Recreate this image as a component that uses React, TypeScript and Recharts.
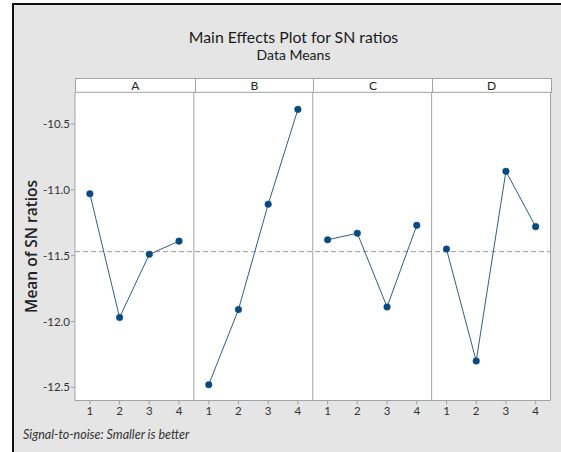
import React from "react"
import { LineChart, Line, XAxis, YAxis, ReferenceLine, ReferenceArea } from "recharts"

const factors = ["A", "B", "C", "D"]
const levels = [1, 2, 3, 4]
const meanA = [-11.03, -11.97, -11.49, -11.39]
const meanB = [-12.48, -11.91, -11.11, -10.39]
const meanC = [-11.38, -11.33, -11.89, -11.27]
const meanD = [-11.45, -12.3, -10.86, -11.28]
const overallMean = -11.47
const yTicks = [-12.5, -12.0, -11.5, -11.0, -10.5]

const seriesValues = [meanA, meanB, meanC, meanD]

// one row per factor level, x runs 1..16 across the four panels
const rows = factors.flatMap((f, fi) =>
  levels.map((lv, li) => ({ x: fi * levels.length + lv, [f]: seriesValues[fi][li] }))
)
const xTicks = rows.map((r) => r.x)

const FONT = "Lato, 'Open Sans', sans-serif"
const FRAME = "#a3a3a3"
const LINE = "#2f5f80"
const DOT = "#0b4a80"

const W = 561
const H = 452
const PLOT_LEFT = 75
const PLOT_RIGHT = 550.5
const PLOT_TOP = 92.3
const PLOT_BOTTOM = 400.5
const X_AXIS_H = 30

export default function App() {
  const panelW = (PLOT_RIGHT - PLOT_LEFT) / factors.length
  return (
    <div style={{ position: "absolute", left: 0, top: 0, width: W, height: H, background: "#fff", overflow: "hidden", fontFamily: FONT }}>
      <div
        style={{
          position: "absolute",
          left: 12,
          top: 3,
          width: W,
          height: H,
          background: "#e5e5e5",
          borderLeft: "2px solid #111",
          borderTop: "2px solid #111",
        }}
      />
      <div style={{ position: "absolute", left: 0, width: W, top: 27, textAlign: "center", paddingLeft: 26, boxSizing: "border-box", fontSize: 15.8, color: "#1a1a1a", lineHeight: "20px" }}>
        Main Effects Plot for SN ratios
      </div>
      <div style={{ position: "absolute", left: 0, width: W, top: 46, textAlign: "center", paddingLeft: 26, boxSizing: "border-box", fontSize: 14, color: "#1a1a1a", lineHeight: "18px" }}>
        Data Means
      </div>

      {/* facet header strip */}
      <div
        style={{
          position: "absolute",
          left: PLOT_LEFT,
          top: 78,
          width: PLOT_RIGHT - PLOT_LEFT + 1,
          height: PLOT_TOP - 78 + 1,
          display: "flex",
          background: "#fff",
          border: `1px solid ${FRAME}`,
          boxSizing: "border-box",
        }}
      >
        {factors.map((f, i) => (
          <div
            key={f}
            style={{
              width: panelW,
              textAlign: "center",
              fontSize: 12,
              lineHeight: "13px",
              color: "#222",
              borderLeft: i === 0 ? "none" : `1px solid ${FRAME}`,
              boxSizing: "border-box",
            }}
          >
            {f}
          </div>
        ))}
      </div>

      <div style={{ position: "absolute", left: 0, top: 0 }}>
        <LineChart
          width={W}
          height={H}
          data={rows}
          margin={{ top: PLOT_TOP, right: W - PLOT_RIGHT, bottom: H - PLOT_BOTTOM - X_AXIS_H, left: 0 }}
        >
          <XAxis
            dataKey="x"
            type="number"
            domain={[0.5, 16.5]}
            ticks={xTicks}
            interval={0}
            height={X_AXIS_H}
            allowDataOverflow
            tickFormatter={(v: number) => String(((v - 1) % 4) + 1)}
            axisLine={false}
            tickLine={{ stroke: FRAME }}
            tickSize={4}
            tick={{ fontSize: 11.5, fill: "#333", fontFamily: FONT }}
          />
          <YAxis
            type="number"
            domain={[-12.6, -10.26]}
            ticks={yTicks}
            allowDataOverflow
            width={PLOT_LEFT}
            tickFormatter={(v: number) => v.toFixed(1)}
            axisLine={false}
            tickLine={{ stroke: FRAME }}
            tickSize={4}
            tickMargin={1}
            tick={{ fontSize: 11.5, fill: "#333", fontFamily: FONT }}
            label={{
              value: "Mean of SN ratios",
              angle: -90,
              position: "center",
              dx: -6,
              style: { fontSize: 15.5, fontWeight: 600, fill: "#222", fontFamily: "'Open Sans', sans-serif" },
            }}
          />
          <ReferenceArea x1={0.5} x2={16.5} y1={-12.6} y2={-10.26} fill="#fff" fillOpacity={1} stroke={FRAME} />
          {[4.5, 8.5, 12.5].map((x) => (
            <ReferenceLine key={x} x={x} stroke={FRAME} />
          ))}
          <ReferenceLine y={overallMean} stroke="#999" strokeDasharray="5 3" />
          {factors.map((f) => (
            <Line
              key={f}
              dataKey={f}
              type="linear"
              stroke={LINE}
              strokeWidth={1}
              dot={{ r: 3.3, fill: DOT, stroke: DOT, strokeWidth: 0.5 }}
              activeDot={false}
              connectNulls={false}
              isAnimationActive={false}
            />
          ))}
        </LineChart>
      </div>

      <div style={{ position: "absolute", left: 23, top: 426, fontSize: 12.5, fontStyle: "italic", color: "#333", lineHeight: "17px" }}>
        Signal-to-noise: Smaller is better
      </div>
    </div>
  )
}
